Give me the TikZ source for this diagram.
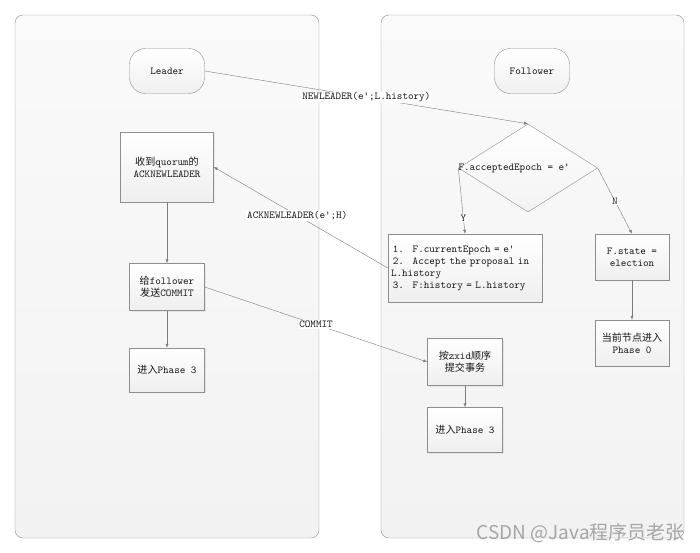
\documentclass[tikz,border=0pt]{standalone}
\usepackage{fontspec}
\newfontfamily\cjk{Noto Sans CJK SC}[Scale=0.95]
\newfontfamily\markfont{Noto Sans CJK SC}
\usetikzlibrary{shapes.geometric,arrows.meta,shadows}

\definecolor{edgegray}{HTML}{8E8E8E}
\definecolor{linegray}{HTML}{7C7C7C}
\definecolor{inkgray}{HTML}{151515}
\definecolor{panelgray}{HTML}{F2F2F2}

\tikzset{
  pane/.style={draw=edgegray, rounded corners=8pt, top color=white!98!black, bottom color=panelgray},
  term/.style={draw=edgegray, rounded corners=16pt, minimum width=75pt, minimum height=45pt,
    top color=white, bottom color=gray!12},
  proc/.style={draw=edgegray, align=center, minimum width=75pt, minimum height=47pt, inner sep=3pt,
    top color=white, bottom color=gray!13,
    drop shadow={opacity=0.12, shadow xshift=1pt, shadow yshift=-1pt}},
  decision/.style={draw=edgegray, diamond, inner sep=0pt, minimum width=139pt, minimum height=88pt,
    top color=white, bottom color=gray!10},
  flow/.style={draw=linegray, -{Latex[length=4pt,width=3pt]}},
  tag/.style={fill=white, inner sep=1pt}
}

\begin{document}
\begin{tikzpicture}[x=1pt, y=-1pt, font=\ttfamily\fontsize{10.6}{12}\selectfont, text=inkgray]
    \useasboundingbox (0,0) rectangle (700,553);

    % Two panels
    \draw [pane] (15,15) rectangle (319,538);
    \draw [pane] (381,15) rectangle (684,538);

    % Leader side
    \node [term] (leader) at (167,71) {Leader};
    \node [proc, minimum width=93pt, minimum height=70pt] (quorum) at (167,167) {{\cjk 收到}quorum{\cjk 的}\\ACKNEWLEADER};
    \node [proc] (commit) at (167,287) {{\cjk 给}follower\\{\cjk 发送}COMMIT};
    \node [proc, minimum height=44pt] (lphase) at (167,370) {{\cjk 进入}Phase 3};

    % Follower side
    \node [term] (follower) at (532,71) {Follower};
    \node [decision] (check) at (528,168) {};
    \node [anchor=west, inner sep=0pt] (checktext) at (check.west) {F.acceptedEpoch = e'};
    \node [proc, align=left, minimum width=154pt, minimum height=68pt, text width=148pt] (accept) at (465,268)
        {\,1.~ F.currentEpoch = e'\\\,2.~ Accept the proposal in\\L.history\\\,3.~ F:history = L.history};
    \node [proc, minimum width=74pt, minimum height=46pt] (fstate) at (632,257) {F.state =\\election};
    \node [proc, minimum width=74pt, minimum height=46pt] (phasezero) at (632,343) {{\cjk 当前节点进入}\\Phase 0};
    \node [proc] (zxid) at (465,362) {{\cjk 按}zxid{\cjk 顺序}\\{\cjk 提交事务}};
    \node [proc, minimum height=45pt] (rphase) at (465,430) {{\cjk 进入}Phase 3};

    % Messages between the two sides
    \draw [flow] (leader.east) -- (check.north) node [pos=0.5, tag] {NEWLEADER(e';L.history)};
    \draw [flow] (accept.west) -- (quorum.east) node [pos=0.52, tag] {ACKNEWLEADER(e';H)};
    \draw [flow] (commit.east) -- (zxid.west) node [pos=0.5, tag] {COMMIT};

    % Local steps
    \draw [flow] (quorum) -- (commit);
    \draw [flow] (commit) -- (lphase);
    \draw [flow] (check.west) -- (accept.north) node [pos=0.76, tag] {Y};
    \draw [flow] (check.east) -- (fstate.north) node [pos=0.5, tag] {N};
    \draw [flow] (fstate) -- (phasezero);
    \draw [flow] (zxid) -- (rphase);

    % Watermark
    \node [anchor=east, inner sep=0pt, text=gray!70, font=\markfont\fontsize{19}{19}\selectfont] (mark) at (685,533) {CSDN @Java程序员老张};
\end{tikzpicture}
\end{document}
